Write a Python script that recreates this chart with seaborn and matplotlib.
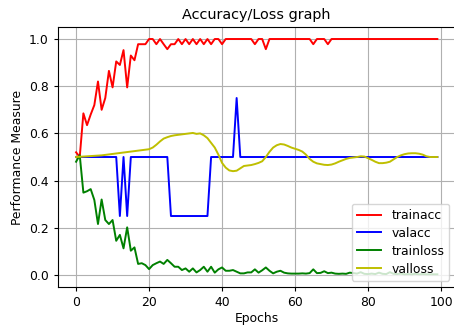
import matplotlib
matplotlib.use("Agg")
import matplotlib.pyplot as plt
import seaborn as sns
import pandas as pd
import numpy as np

epochs = list(range(100))

trainacc = [0.52, 0.50, 0.685, 0.635, 0.68, 0.72, 0.82, 0.70, 0.75, 0.865,
            0.795, 0.905, 0.89, 0.953, 0.795, 0.93, 0.91, 0.978, 0.978, 0.978,
            1.0, 1.0, 0.978, 1.0, 0.978, 0.957, 0.978, 0.978, 1.0, 0.978,
            1.0, 0.978, 1.0, 0.978, 1.0, 0.978, 1.0, 0.978, 1.0, 1.0,
            0.978, 1.0, 1.0, 1.0, 1.0, 1.0, 1.0, 1.0, 1.0, 0.978,
            1.0, 1.0, 0.957, 1.0, 1.0, 1.0, 1.0, 1.0, 1.0, 1.0,
            1.0, 1.0, 1.0, 1.0, 1.0, 0.978, 1.0, 1.0, 1.0, 0.978,
            1.0, 1.0, 1.0, 1.0, 1.0, 1.0, 1.0, 1.0, 1.0, 1.0,
            1.0, 1.0, 1.0, 1.0, 1.0, 1.0, 1.0, 1.0, 1.0, 1.0,
            1.0, 1.0, 1.0, 1.0, 1.0, 1.0, 1.0, 1.0, 1.0, 1.0]

valacc = [0.5] * 12 + [0.25, 0.5, 0.25] + [0.5] * 11 + [0.25] * 11 + \
         [0.5] * 7 + [0.75] + [0.5] * 55

trainloss = [0.480, 0.508, 0.349, 0.355, 0.364, 0.318, 0.216, 0.320, 0.233, 0.216,
             0.233, 0.145, 0.170, 0.113, 0.202, 0.103, 0.117, 0.047, 0.050, 0.042,
             0.025, 0.042, 0.050, 0.057, 0.047, 0.064, 0.050, 0.035, 0.035, 0.021,
             0.028, 0.014, 0.028, 0.011, 0.021, 0.035, 0.014, 0.035, 0.010, 0.024,
             0.032, 0.018, 0.018, 0.021, 0.014, 0.007, 0.007, 0.011, 0.011, 0.024,
             0.010, 0.020, 0.032, 0.018, 0.007, 0.014, 0.018, 0.010, 0.007, 0.006,
             0.006, 0.006, 0.007, 0.006, 0.008, 0.024, 0.008, 0.009, 0.016, 0.008,
             0.010, 0.006, 0.005, 0.006, 0.005, 0.010, 0.008, 0.006, 0.012, 0.005,
             0.004, 0.006, 0.004, 0.010, 0.005, 0.004, 0.012, 0.005, 0.004, 0.006,
             0.003, 0.004, 0.003, 0.005, 0.003, 0.004, 0.003, 0.003, 0.003, 0.003]

valloss = [0.500, 0.501, 0.502, 0.503, 0.504, 0.505, 0.506, 0.507, 0.509, 0.511,
           0.513, 0.515, 0.517, 0.519, 0.521, 0.523, 0.525, 0.527, 0.529, 0.531,
           0.533, 0.540, 0.552, 0.566, 0.578, 0.584, 0.589, 0.592, 0.594, 0.596,
           0.598, 0.600, 0.602, 0.598, 0.600, 0.592, 0.580, 0.560, 0.540, 0.510,
           0.475, 0.455, 0.443, 0.440, 0.442, 0.452, 0.462, 0.464, 0.466, 0.470,
           0.475, 0.482, 0.500, 0.522, 0.540, 0.550, 0.555, 0.553, 0.547, 0.540,
           0.535, 0.530, 0.523, 0.510, 0.492, 0.480, 0.473, 0.470, 0.467, 0.466,
           0.468, 0.473, 0.480, 0.486, 0.492, 0.496, 0.498, 0.500, 0.503, 0.502,
           0.495, 0.488, 0.480, 0.474, 0.474, 0.476, 0.480, 0.490, 0.500, 0.507,
           0.512, 0.515, 0.516, 0.516, 0.514, 0.510, 0.503, 0.500, 0.500, 0.500]

series = {"trainacc": (trainacc, "r"), "valacc": (valacc, "b"),
          "trainloss": (trainloss, "g"), "valloss": (valloss, "y")}

plt.rcParams.update({
    "font.size": 8.9,
    "axes.titlesize": 10.4,
    "xtick.major.size": 3.1,
    "ytick.major.size": 3.1,
    "legend.fontsize": 8.9,
})

fig = plt.figure(figsize=(4.54, 3.27), dpi=100)
ax = fig.add_axes([0.1278, 0.1229, 0.8753, 0.7939])

for name, (vals, col) in series.items():
    df = pd.DataFrame({"Epochs": epochs, "value": vals})
    sns.lineplot(data=df, x="Epochs", y="value", color=col, label=name,
                 ax=ax, linewidth=1.4)

ax.grid(True, color="#b0b0b0", linewidth=0.8)
ax.set_axisbelow(True)
ax.set_xticks([0, 20, 40, 60, 80, 100])
ax.set_yticks([0.0, 0.2, 0.4, 0.6, 0.8, 1.0])
ax.set_xlim(-4.95, 103.95)
ax.set_ylim(-0.05, 1.05)
ax.set_title("Accuracy/Loss graph")
ax.set_xlabel("Epochs", labelpad=2.5)
ax.set_ylabel("Performance Measure")
ax.legend(loc="lower right", labelspacing=0.4)

fig.savefig("out.png", dpi=100)
